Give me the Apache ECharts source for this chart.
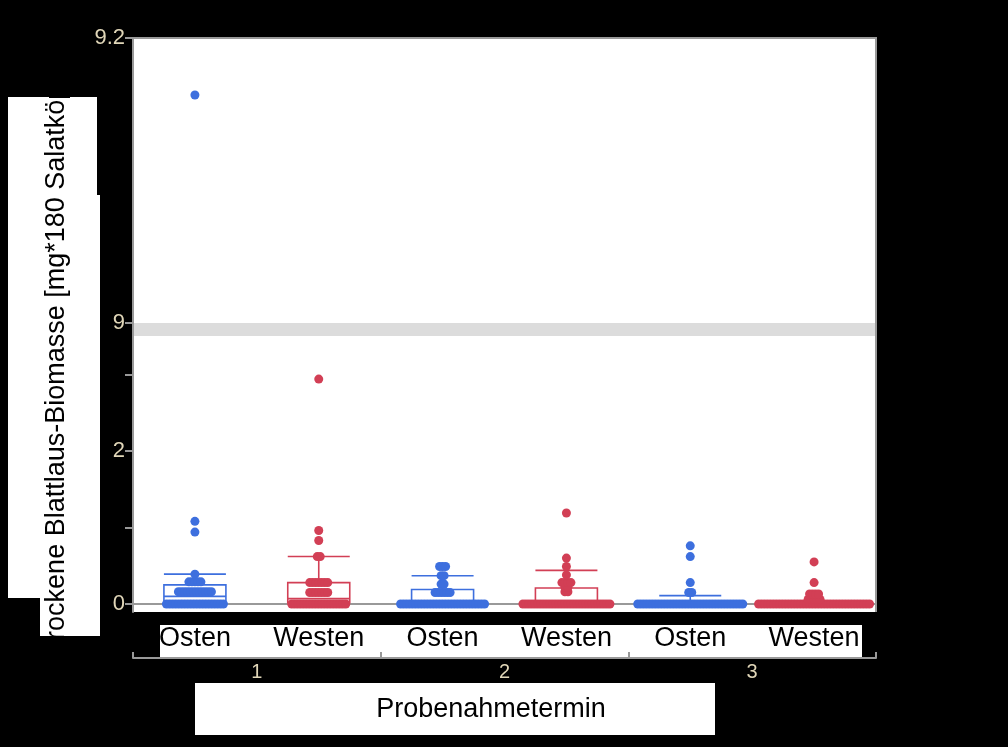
<!DOCTYPE html>
<html><head><meta charset="utf-8">
<script src="https://cdn.jsdelivr.net/npm/echarts@6/dist/echarts.min.js"></script>
<style>html,body{margin:0;padding:0;background:#000}#c{width:1008px;height:747px}</style>
</head><body><div id="c"></div>
<script>
// ---- data ----
const categories = ['Osten', 'Westen', 'Osten', 'Westen', 'Osten', 'Westen'];
const groupLabels = ['1', '2', '3'];
const upperTicks = [9, 9.2];
const lowerTicks = [0, 1, 2, 3];
const lowerTickLabels = [0, 2];
const yTitle = 'Trockene Blattlaus-Biomasse [mg*180 Salatköpfe]';
const xTitle = 'Probenahmetermin';

// dot values and how many dots sit at each value, per category
const osten1Values  = [0, 0.16, 0.29, 0.39, 0.94, 1.08, 9.16];
const osten1Counts  = [20, 12, 5, 1, 1, 1, 1];
const westen1Values = [0, 0.15, 0.28, 0.62, 0.83, 0.96, 2.94];
const westen1Counts = [19, 7, 7, 2, 1, 1, 1];
const osten2Values  = [0, 0.15, 0.26, 0.37, 0.49];
const osten2Counts  = [29, 6, 2, 2, 3];
const westen2Values = [0, 0.16, 0.22, 0.28, 0.38, 0.49, 0.60, 1.19];
const westen2Counts = [30, 2, 2, 4, 1, 1, 1, 1];
const osten3Values  = [0, 0.15, 0.28, 0.62, 0.76];
const osten3Counts  = [36, 2, 1, 1, 1];
const westen3Values = [0, 0.06, 0.13, 0.28, 0.55];
const westen3Counts = [38, 5, 4, 1, 1];

// box stats [min, Q1, median, Q3, upper whisker]
const boxOsten1  = [0, 0.04, 0.10, 0.25, 0.39];
const boxWesten1 = [0, 0.02, 0.07, 0.28, 0.62];
const boxOsten2  = [0, 0, 0, 0.19, 0.37];
const boxWesten2 = [0, 0, 0, 0.21, 0.44];
const boxOsten3  = [0, 0, 0, 0, 0.11];
const boxWesten3 = [0, 0, 0, 0, 0];

// ---- styling / layout ----
const BLUE = '#3D6FDE', RED = '#D23F55';
const FONT = 'Liberation Sans, Arial, sans-serif';
const TICKCOL = '#e0d6b8';
const GL = 133, GR = 876;
const breakValue = 9;
const dotGapPx = 3;
const bandPx = (GR - GL) / categories.length;
const gap = dotGapPx / bandPx;

const groups = [
  [osten1Values, osten1Counts], [westen1Values, westen1Counts],
  [osten2Values, osten2Counts], [westen2Values, westen2Counts],
  [osten3Values, osten3Counts], [westen3Values, westen3Counts]
];
const boxes = [boxOsten1, boxWesten1, boxOsten2, boxWesten2, boxOsten3, boxWesten3];
const colorOf = i => (i % 2 === 0 ? BLUE : RED);

const lowerPts = [[], []], upperPts = [[], []];
groups.forEach(([vals, cnts], i) => {
  vals.forEach((v, j) => {
    const n = cnts[j];
    for (let k = 0; k < n; k++) {
      const x = i + 0.5 + (k - (n - 1) / 2) * gap;
      (v >= breakValue ? upperPts : lowerPts)[i % 2].push([x, v]);
    }
  });
});

const chart = echarts.init(document.getElementById('c'));
const yAxisCommon = {
  type: 'value',
  axisLine: { show: true, lineStyle: { color: '#999', width: 2 } },
  axisTick: { show: true, length: 8, lineStyle: { color: '#999', width: 2 } },
  axisLabel: { color: TICKCOL, fontSize: 22, fontFamily: FONT, margin: 8 },
  splitLine: { show: false }
};
chart.setOption({
  backgroundColor: '#000',
  animation: false,
  grid: [
    { left: GL, width: GR - GL, top: 38, height: 285, show: true, backgroundColor: '#fff', borderWidth: 0 },
    { left: GL, width: GR - GL, top: 336, height: 276, show: true, backgroundColor: '#fff', borderWidth: 0 }
  ],
  xAxis: [
    { gridIndex: 1, type: 'category', data: categories,
      axisLine: { lineStyle: { color: '#999', width: 2 } }, axisTick: { show: false },
      axisLabel: { color: '#000', fontSize: 27, fontFamily: FONT, margin: 13 } },
    { gridIndex: 1, type: 'category', data: groupLabels, position: 'bottom', offset: 46,
      axisLine: { lineStyle: { color: '#999', width: 2 } },
      axisTick: { show: true, inside: true, length: 6, lineStyle: { color: '#999', width: 2 } },
      axisLabel: { color: TICKCOL, fontSize: 20, fontFamily: FONT, margin: 4 } },
    { gridIndex: 1, type: 'value', min: 0, max: categories.length, show: false },
    { gridIndex: 0, type: 'value', min: 0, max: categories.length, show: false }
  ],
  yAxis: [
    Object.assign({}, yAxisCommon, { gridIndex: 0, min: 9, max: 9.2,
      axisTick: Object.assign({}, yAxisCommon.axisTick, { customValues: upperTicks }),
      axisLabel: Object.assign({}, yAxisCommon.axisLabel, { customValues: upperTicks }) }),
    Object.assign({}, yAxisCommon, { gridIndex: 1, min: -0.1046, max: 3.503,
      axisTick: Object.assign({}, yAxisCommon.axisTick, { customValues: lowerTicks }),
      axisLabel: Object.assign({}, yAxisCommon.axisLabel, { customValues: lowerTickLabels }) })
  ],
  series: [
    { type: 'boxplot', xAxisIndex: 0, yAxisIndex: 1, boxWidth: [62, 62], z: 2,
      itemStyle: { color: 'rgba(0,0,0,0)', borderWidth: 1.6 },
      emphasis: { disabled: true },
      data: boxes.map((b, i) => ({ value: b, itemStyle: { borderColor: colorOf(i), color: 'rgba(0,0,0,0)' } })) },
    { type: 'scatter', xAxisIndex: 2, yAxisIndex: 1, symbolSize: 9, z: 3, itemStyle: { color: BLUE, opacity: 1 }, data: lowerPts[0] },
    { type: 'scatter', xAxisIndex: 2, yAxisIndex: 1, symbolSize: 9, z: 3, itemStyle: { color: RED, opacity: 1 }, data: lowerPts[1] },
    { type: 'scatter', xAxisIndex: 3, yAxisIndex: 0, symbolSize: 9, z: 3, itemStyle: { color: BLUE, opacity: 1 }, data: upperPts[0] },
    { type: 'scatter', xAxisIndex: 3, yAxisIndex: 0, symbolSize: 9, z: 3, itemStyle: { color: RED, opacity: 1 }, data: upperPts[1] }
  ],
  graphic: [
    { type: 'rect', z: -1, shape: { x: 8, y: 97, width: 89, height: 501 }, style: { fill: '#fff' } },
    { type: 'rect', z: -1, shape: { x: 40, y: 195, width: 60, height: 441 }, style: { fill: '#fff' } },
    { type: 'text', z: 1, x: 57, y: 355, rotation: Math.PI / 2,
      style: { text: yTitle, fill: '#000', font: '27px ' + FONT, textAlign: 'center', textVerticalAlign: 'middle' } },
    { type: 'rect', z: 1, shape: { x: 134, y: 323, width: GR - 134, height: 13 }, style: { fill: '#dcdcdc' } },
    { type: 'line', z: 5, shape: { x1: 133, y1: 322, x2: 133, y2: 337 }, style: { stroke: '#999', lineWidth: 2 } },
    { type: 'polyline', z: 5, shape: { points: [[128, 38], [GR, 38], [GR, 612]] }, style: { stroke: '#999', lineWidth: 2, fill: null } },
    { type: 'rect', z: -1, shape: { x: 160, y: 625, width: 702, height: 32 }, style: { fill: '#fff' } },
    { type: 'rect', z: -1, shape: { x: 195, y: 683, width: 520, height: 52 }, style: { fill: '#fff' } },
    { type: 'text', z: 1, x: 491, y: 710,
      style: { text: xTitle, fill: '#000', font: '27px ' + FONT, textAlign: 'center', textVerticalAlign: 'middle' } }
  ]
});
</script></body></html>
